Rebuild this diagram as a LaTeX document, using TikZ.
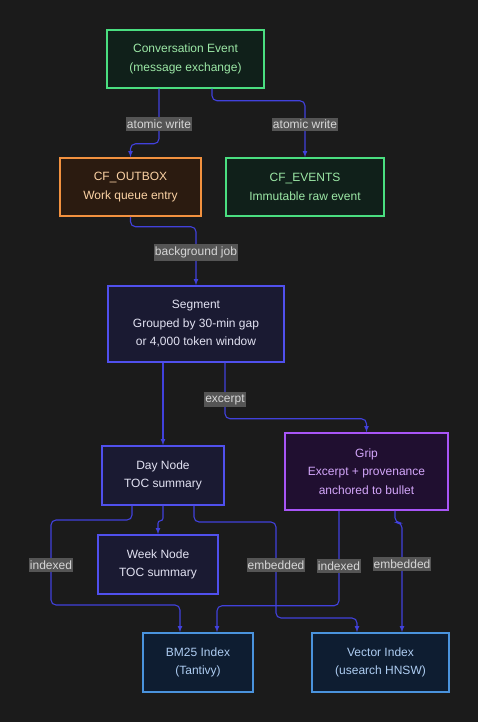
\documentclass[tikz,border=0pt]{standalone}
\usepackage{fontspec}
\setmainfont{Liberation Sans}
\usepackage{tikz}
\usetikzlibrary{arrows,positioning}

\definecolor{bgcol}{HTML}{1B1B1B}
\definecolor{flowcol}{HTML}{4141DC}
\definecolor{lblfill}{HTML}{555555}
\definecolor{lbltext}{HTML}{D6D6D6}
\definecolor{greenline}{HTML}{4ADE80}
\definecolor{greenfill}{HTML}{10201A}
\definecolor{greentext}{HTML}{9CE8A6}
\definecolor{orangeline}{HTML}{F2913F}
\definecolor{orangefill}{HTML}{2B1B10}
\definecolor{orangetext}{HTML}{FBD2A4}
\definecolor{indigoline}{HTML}{5050EE}
\definecolor{indigofill}{HTML}{1A1A32}
\definecolor{indigotext}{HTML}{E2E2F2}
\definecolor{purpleline}{HTML}{A855F7}
\definecolor{purplefill}{HTML}{200F30}
\definecolor{purpletext}{HTML}{D3A6FA}
\definecolor{skyline}{HTML}{4A93DD}
\definecolor{skyfill}{HTML}{0E1D31}
\definecolor{skytext}{HTML}{AECDF2}

\begin{document}
\begin{tikzpicture}
[ x=1pt, y=-1pt,
		box/.style={rectangle,draw,line width=1.5pt,align=center,inner sep=0pt,font=\fontsize{12}{18.5}\selectfont},
		eventbox/.style={box,draw=greenline,fill=greenfill,text=greentext},
		outboxbox/.style={box,draw=orangeline,fill=orangefill,text=orangetext},
		summarybox/.style={box,draw=indigoline,fill=indigofill,text=indigotext},
		gripbox/.style={box,draw=purpleline,fill=purplefill,text=purpletext},
		indexbox/.style={box,draw=skyline,fill=skyfill,text=skytext},
		flow/.style={->,>=latex,line width=1.1pt,draw=flowcol,rounded corners=5pt},
		lbl/.style={sharp corners,fill=lblfill,text=lbltext,inner xsep=1pt,inner ysep=2.5pt,font=\fontsize{12}{13}\selectfont}]

	\useasboundingbox[fill=bgcol] (0,0) rectangle (478,722);

	\node[eventbox,minimum width=157pt,minimum height=58pt] (conv) at (185.5,59) {Conversation Event\\(message exchange)};
	\node[outboxbox,minimum width=141pt,minimum height=58pt] (outbox) at (130.5,187) {CF\_OUTBOX\\Work queue entry};
	\node[eventbox,minimum width=158pt,minimum height=58pt] (events) at (305,187) {CF\_EVENTS\\Immutable raw event};
	\node[summarybox,minimum width=176pt,minimum height=76pt] (segment) at (196,324) {Segment\\Grouped by 30-min gap\\or 4,000 token window};
	\node[summarybox,minimum width=122pt,minimum height=59pt] (day) at (163,475.5) {Day Node\\TOC summary};
	\node[gripbox,minimum width=163pt,minimum height=77pt] (grip) at (366.5,471.5) {Grip\\Excerpt + provenance\\anchored to bullet};
	\node[summarybox,minimum width=120pt,minimum height=59pt] (week) at (158,564.5) {Week Node\\TOC summary};
	\node[indexbox,minimum width=110pt,minimum height=59pt] (bm25) at (198,662.5) {BM25 Index\\(Tantivy)};
	\node[indexbox,minimum width=137pt,minimum height=59pt] (vector) at (380.5,662.5) {Vector Index\\(usearch HNSW)};

	\draw[flow] ([xshift=-26.5pt]conv.south) -- node[lbl,pos=0.64] {atomic write} ++(0,55) -| (outbox.north);
	\draw[flow] ([xshift=26.5pt]conv.south) -- ++(0,12) -| node[lbl,pos=0.71] {atomic write} (events.north);
	\draw[flow] (outbox.south) -- ++(0,10) -| node[lbl,pos=0.72] {background job} (segment.north);
	\draw[flow] ([xshift=-33pt]segment.south) -- (day.north);
	\draw[flow] ([xshift=29pt]segment.south) -- node[lbl,pos=0.66] {excerpt} ++(0,56) -| (grip.north);
	\draw[flow,rounded corners=2.5pt] (day.south) -- ++(0,15) -| (week.north);
	\draw[flow] ([xshift=-31pt]day.south) |- (51,520) -- node[lbl,pos=0.53] {indexed} (51,605) -| ([xshift=-18pt]bm25.north);
	\draw[flow] ([xshift=31pt]day.south) |- (276,522) -- node[lbl,pos=0.45] {embedded} (276,618) -| ([xshift=-23.5pt]vector.north);
	\draw[flow] ([xshift=-27.5pt]grip.south) -- node[lbl,pos=0.58] {indexed} ++(0,95) -| ([xshift=19pt]bm25.north);
	\draw[flow] ([xshift=28.5pt]grip.south) -- ++(0,12) -| node[lbl,pos=0.69] {embedded} ([xshift=21.5pt]vector.north);
\end{tikzpicture}
\end{document}
